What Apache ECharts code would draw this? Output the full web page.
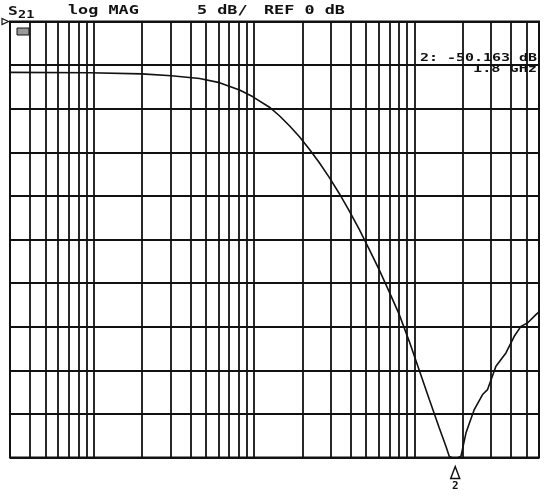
<!DOCTYPE html>
<html>
<head>
<meta charset="utf-8">
<script src="https://cdn.jsdelivr.net/npm/echarts@6/dist/echarts.min.js"></script>
<style>
html,body{margin:0;padding:0;background:#fff;}
#chart{width:546px;height:496px;}
</style>
</head>
<body>
<div id="chart"></div>
<script>
// Frequency (MHz) of each trace point
var freqMHz = [3, 9.4, 19.9, 30.5, 45.7, 60.9, 81.2, 97.8, 124.8, 144.0, 166.3, 192.0, 221.5, 255.7, 295.3, 340.9, 393.5, 454.3, 524.3, 605.3, 698.8, 806.5, 931.1, 1075, 1241, 1432, 1577, 1654, 1800, 1956, 2102, 2367, 2667, 2865, 3232, 3731, 4204, 4628, 5087, 5741, 6000];
// S21 magnitude (dB)
var s21dB = [-5.84, -5.87, -6.01, -6.22, -6.53, -7.01, -7.85, -8.61, -9.83, -10.81, -11.95, -13.22, -14.64, -16.20, -17.90, -19.75, -21.74, -23.87, -26.15, -28.52, -31.04, -33.62, -36.71, -40.03, -43.35, -46.62, -48.74, -49.89, -50.163, -49.85, -47.17, -44.50, -42.78, -42.21, -39.54, -38.01, -36.10, -34.96, -34.57, -33.62, -33.3];
// vertical log grid lines (MHz)
var freqGridMHz = [4, 5, 6, 7, 8, 9, 10, 20, 30, 40, 50, 60, 70, 80, 90, 100, 200, 300, 400, 500, 600, 700, 800, 900, 1000, 2000, 3000, 4000, 5000];
var markerFreq = 1800;
var markerVal = -50.163;
var axisMinDB = -50;

var chart = echarts.init(document.getElementById('chart'));
var pts = freqMHz.map(function (f, i) { return [f, s21dB[i]]; });
var mono = 'DejaVu Sans Mono, Liberation Mono, monospace';

chart.setOption({
  animation: false,
  backgroundColor: '#fff',
  grid: { left: 10, right: 7, top: 21.5, bottom: 38.5, show: true, borderColor: '#111', borderWidth: 2, backgroundColor: 'transparent' },
  xAxis: {
    type: 'log', logBase: 10, min: 3, max: 6000,
    axisLine: { show: false }, axisTick: { show: false }, axisLabel: { show: false },
    splitLine: { show: false }
  },
  yAxis: {
    type: 'value', min: axisMinDB, max: 0, interval: 5,
    axisLine: { show: false }, axisTick: { show: false }, axisLabel: { show: false },
    splitLine: { show: true, lineStyle: { color: '#111', width: 1.8 } }
  },
  series: [{
    type: 'line',
    data: pts,
    symbol: 'none',
    smooth: false,
    clip: true,
    lineStyle: { color: '#111', width: 1.6 },
    z: 5,
    markLine: {
      silent: true, symbol: 'none', animation: false,
      label: { show: false },
      lineStyle: { color: '#111', width: 1.8, type: 'solid' },
      data: freqGridMHz.map(function (v) { return { xAxis: v }; })
    },
    markPoint: {
      silent: true,
      data: [{ coord: [markerFreq, axisMinDB] }],
      symbol: 'triangle',
      symbolSize: [9, 12],
      symbolOffset: [0, 15],
      itemStyle: { color: '#fff', borderColor: '#111', borderWidth: 1.5 },
      label: { show: true, position: 'bottom', distance: 1, formatter: '2', color: '#111', fontFamily: mono, fontSize: 11, fontWeight: 'bold' }
    }
  }],
  graphic: [
    { type: 'text', x: 8, y: 6, scaleX: 1.35, style: { text: 'S', font: 'bold 12px ' + mono, fill: '#111' } },
    { type: 'text', x: 18, y: 10.5, scaleX: 1.35, style: { text: '21', font: 'bold 10px ' + mono, fill: '#111' } },
    { type: 'text', x: 68, y: 5, scaleX: 1.4, style: { text: 'log MAG', font: 'bold 12px ' + mono, fill: '#111' } },
    { type: 'text', x: 197, y: 5, scaleX: 1.4, style: { text: '5 dB/', font: 'bold 12px ' + mono, fill: '#111' } },
    { type: 'text', x: 264, y: 5, scaleX: 1.4, style: { text: 'REF 0 dB', font: 'bold 12px ' + mono, fill: '#111' } },
    { type: 'text', x: 537, y: 53, scaleX: 1.36, style: { text: '2: -50.163 dB', font: 'bold 11px ' + mono, fill: '#111', textAlign: 'right' } },
    { type: 'text', x: 537, y: 64, scaleX: 1.38, style: { text: '1.8 GHz', font: 'bold 11px ' + mono, fill: '#111', textAlign: 'right' } },
    { type: 'polygon', shape: { points: [[2, 18.5], [8.5, 21.5], [2, 24.5]] }, style: { fill: '#fff', stroke: '#111', lineWidth: 1.2 } },
    { type: 'rect', shape: { x: 17, y: 28, width: 12, height: 7 }, style: { fill: '#999', stroke: '#111', lineWidth: 1 } }
  ]
});
</script>
</body>
</html>
